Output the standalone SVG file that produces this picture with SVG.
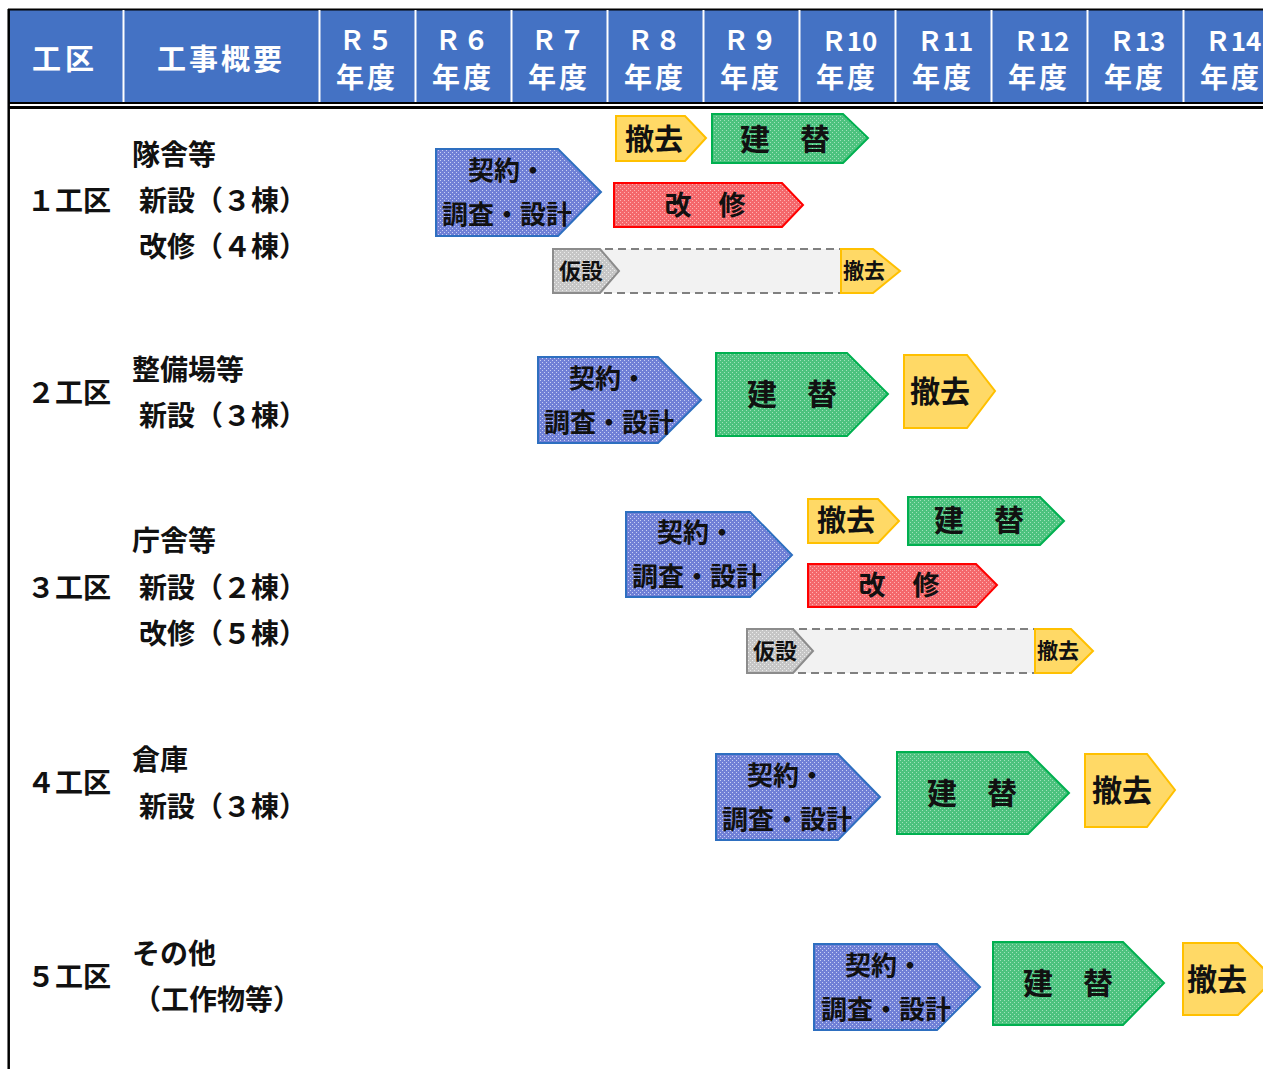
<svg xmlns="http://www.w3.org/2000/svg" width="1263" height="1069" viewBox="0 0 1263 1069">
<defs>
<pattern id="pBlue" width="4" height="4" patternUnits="userSpaceOnUse"><rect width="4" height="4" fill="#7080d6"/><rect x="0" y="0" width="1" height="1" fill="#c8d0f4"/><rect x="2" y="2" width="1" height="1" fill="#c8d0f4"/></pattern>
<pattern id="pGreen" width="4" height="4" patternUnits="userSpaceOnUse"><rect width="4" height="4" fill="#4cc27e"/><rect x="0" y="0" width="1" height="1" fill="#9fe2bb"/><rect x="2" y="2" width="1" height="1" fill="#9fe2bb"/></pattern>
<pattern id="pRed" width="4" height="4" patternUnits="userSpaceOnUse"><rect width="4" height="4" fill="#f4676b"/><rect x="0" y="0" width="1" height="1" fill="#ffb3b3"/><rect x="2" y="2" width="1" height="1" fill="#ffb3b3"/></pattern>
<pattern id="pGray" width="4" height="4" patternUnits="userSpaceOnUse"><rect width="4" height="4" fill="#c6c6c6"/><rect x="0" y="0" width="1" height="1" fill="#ececec"/><rect x="2" y="2" width="1" height="1" fill="#ececec"/></pattern>
</defs>
<style>
text{font-family:"Noto Sans CJK JP","Noto Sans",sans-serif;font-weight:bold;dominant-baseline:central;transform:translateY(-2px)}
.h{fill:#fff;text-anchor:middle}
.l{fill:#111;font-size:28px}
.c{fill:#111;text-anchor:middle}
.blue{fill:url(#pBlue);stroke:#2e6fc0;stroke-width:2}
.green{fill:url(#pGreen);stroke:#00b050;stroke-width:2}
.red{fill:url(#pRed);stroke:#ff0000;stroke-width:2}
.gray{fill:url(#pGray);stroke:#8c8c8c;stroke-width:2}
.yel{fill:#ffd966;stroke:#ffc000;stroke-width:2}
.dash{fill:#f2f2f2;stroke:#808080;stroke-width:2;stroke-dasharray:8 5}
.sep{stroke:#fff;stroke-width:2}
</style>
<rect width="1263" height="1069" fill="#fff"/>
<g id="header">
<rect x="9" y="10" width="1254" height="92" fill="#4472c4"/>
<line x1="8" y1="9.5" x2="1263" y2="9.5" stroke="#000" stroke-width="2"/>
<line x1="8" y1="103" x2="1263" y2="103" stroke="#000" stroke-width="2"/>
<line x1="8" y1="107.5" x2="1263" y2="107.5" stroke="#000" stroke-width="3"/>
<line x1="8.7" y1="9" x2="8.7" y2="1069" stroke="#000" stroke-width="2.5"/>
<g class="sep">
<line x1="123.5" y1="10" x2="123.5" y2="102"/><line x1="319.5" y1="10" x2="319.5" y2="102"/><line x1="415.5" y1="10" x2="415.5" y2="102"/><line x1="511.5" y1="10" x2="511.5" y2="102"/><line x1="607.5" y1="10" x2="607.5" y2="102"/><line x1="703.5" y1="10" x2="703.5" y2="102"/><line x1="799.5" y1="10" x2="799.5" y2="102"/><line x1="895.5" y1="10" x2="895.5" y2="102"/><line x1="991.5" y1="10" x2="991.5" y2="102"/><line x1="1087.5" y1="10" x2="1087.5" y2="102"/><line x1="1183.5" y1="10" x2="1183.5" y2="102"/>
</g>
<text class="h" x="65" y="59" font-size="29" letter-spacing="4">工区</text>
<text class="h" x="221" y="59" font-size="29" letter-spacing="3">工事概要</text>
<g font-size="26">
<text class="h" x="367" y="40" letter-spacing="2">Ｒ５</text><text class="h" x="463" y="40" letter-spacing="2">Ｒ６</text><text class="h" x="559" y="40" letter-spacing="2">Ｒ７</text><text class="h" x="655" y="40" letter-spacing="2">Ｒ８</text><text class="h" x="751" y="40" letter-spacing="2">Ｒ９</text>
<text class="h" x="849" y="41">Ｒ10</text><text class="h" x="945" y="41">Ｒ11</text><text class="h" x="1041" y="41">Ｒ12</text><text class="h" x="1137" y="41">Ｒ13</text><text class="h" x="1233" y="41">Ｒ14</text>
</g>
<g font-size="28" letter-spacing="3">
<text class="h" x="367" y="78">年度</text><text class="h" x="463" y="78">年度</text><text class="h" x="559" y="78">年度</text><text class="h" x="655" y="78">年度</text><text class="h" x="751" y="78">年度</text><text class="h" x="847" y="78">年度</text><text class="h" x="943" y="78">年度</text><text class="h" x="1039" y="78">年度</text><text class="h" x="1135" y="78">年度</text><text class="h" x="1231" y="78">年度</text>
</g>
</g>
<g id="labels">
<text class="l" x="132" y="155">隊舎等</text><text class="l" x="27" y="201">１工区</text><text class="l" x="139" y="201">新設（３棟）</text><text class="l" x="139" y="247">改修（４棟）</text>
<text class="l" x="132" y="370">整備場等</text><text class="l" x="27" y="393">２工区</text><text class="l" x="139" y="416">新設（３棟）</text>
<text class="l" x="132" y="541">庁舎等</text><text class="l" x="27" y="588">３工区</text><text class="l" x="139" y="588">新設（２棟）</text><text class="l" x="139" y="634">改修（５棟）</text>
<text class="l" x="132" y="760">倉庫</text><text class="l" x="27" y="783">４工区</text><text class="l" x="139" y="807">新設（３棟）</text>
<text class="l" x="132" y="954">その他</text><text class="l" x="27" y="977">５工区</text><text class="l" x="133" y="1000">（工作物等）</text>
</g>
<g id="row1">
<polygon class="blue" points="436,149 558,149 601,192 558,236 436,236"/>
<text class="c" x="507" y="170" font-size="26">契約・</text><text class="c" x="507" y="214" font-size="26">調査・設計</text>
<polygon class="yel" points="616,116 685,116 706,138 685,161 616,161"/>
<text class="c" x="654" y="139" font-size="29">撤去</text>
<polygon class="green" points="712,114 843,114 868,138 843,163 712,163"/>
<text class="c" x="785" y="139" font-size="30">建　替</text>
<polygon class="red" points="614,183 782,183 803,205 782,227 614,227"/>
<text class="c" x="705" y="205" font-size="27">改　修</text>
<rect class="dash" x="553" y="249" width="300" height="44"/>
<polygon class="gray" points="553,249 600,249 619,271 600,293 553,293"/>
<text class="c" x="581" y="271" font-size="22">仮設</text>
<polygon class="yel" points="841,249 873,249 900,271 873,293 841,293"/>
<text class="c" x="864" y="271" font-size="21">撤去</text>
</g>
<g id="row2">
<polygon class="blue" points="538,357 658,357 701,400 658,443 538,443"/>
<text class="c" x="608" y="378" font-size="26">契約・</text><text class="c" x="609" y="422" font-size="26">調査・設計</text>
<polygon class="green" points="716,353 847,353 888,394 847,436 716,436"/>
<text class="c" x="792" y="394" font-size="30">建　替</text>
<polygon class="yel" points="904,355 967,355 995,391 967,428 904,428"/>
<text class="c" x="940" y="391" font-size="30">撤去</text>
</g>
<g id="row3">
<polygon class="blue" points="626,512 750,512 792,555 750,597 626,597"/>
<text class="c" x="696" y="532" font-size="26">契約・</text><text class="c" x="697" y="576" font-size="26">調査・設計</text>
<polygon class="yel" points="808,499 878,499 899,521 878,543 808,543"/>
<text class="c" x="846" y="520" font-size="29">撤去</text>
<polygon class="green" points="908,497 1040,497 1064,521 1040,545 908,545"/>
<text class="c" x="979" y="520" font-size="30">建　替</text>
<polygon class="red" points="808,564 976,564 997,585 976,607 808,607"/>
<text class="c" x="899" y="585" font-size="27">改　修</text>
<rect class="dash" x="747" y="629" width="300" height="44"/>
<polygon class="gray" points="747,629 793,629 813,651 793,673 747,673"/>
<text class="c" x="775" y="651" font-size="22">仮設</text>
<polygon class="yel" points="1035,629 1071,629 1093,651 1071,673 1035,673"/>
<text class="c" x="1058" y="651" font-size="21">撤去</text>
</g>
<g id="row4">
<polygon class="blue" points="716,754 838,754 880,797 838,840 716,840"/>
<text class="c" x="786" y="775" font-size="26">契約・</text><text class="c" x="787" y="819" font-size="26">調査・設計</text>
<polygon class="green" points="897,752 1028,752 1069,793 1028,834 897,834"/>
<text class="c" x="972" y="793" font-size="30">建　替</text>
<polygon class="yel" points="1085,754 1147,754 1175,790 1147,827 1085,827"/>
<text class="c" x="1122" y="790" font-size="30">撤去</text>
</g>
<g id="row5">
<polygon class="blue" points="814,944 937,944 980,987 937,1030 814,1030"/>
<text class="c" x="884" y="965" font-size="26">契約・</text><text class="c" x="886" y="1009" font-size="26">調査・設計</text>
<polygon class="green" points="993,942 1123,942 1164,983 1123,1025 993,1025"/>
<text class="c" x="1068" y="983" font-size="30">建　替</text>
<polygon class="yel" points="1183,943 1238,943 1274,979 1238,1015 1183,1015"/>
<text class="c" x="1217" y="979" font-size="30">撤去</text>
</g>
</svg>
